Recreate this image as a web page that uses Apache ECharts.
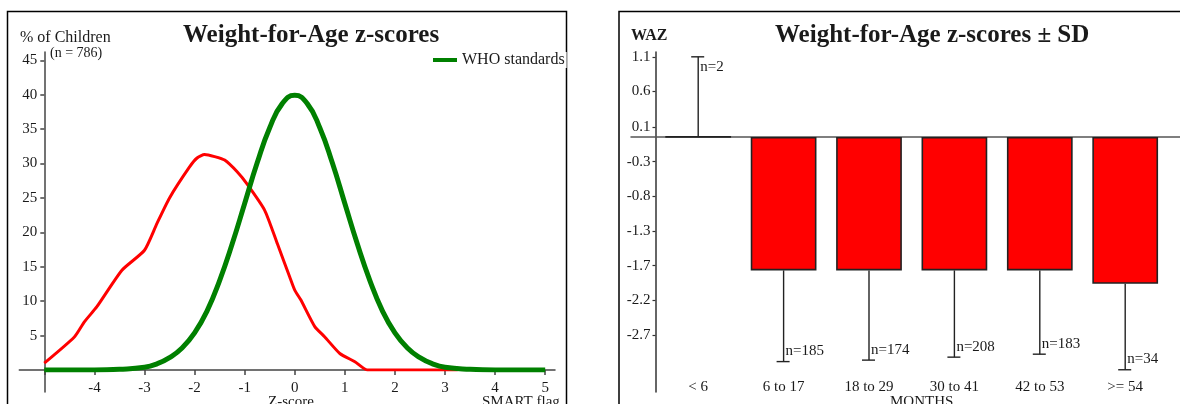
<!DOCTYPE html>
<html><head><meta charset="utf-8">
<script src="https://cdn.jsdelivr.net/npm/echarts@6/dist/echarts.min.js"></script>
<style>html,body{margin:0;padding:0;background:#fff}#c{width:1180px;height:404px}</style>
</head><body><div id="c"></div>
<script>
// ---- Left panel: Weight-for-Age z-score distribution ----
const zObserved   = [-5.0,-4.4,-4.2,-3.95,-3.45,-3.0,-2.75,-2.5,-2.1,-1.95,-1.8,-1.6,-1.4,-1.15,-0.95,-0.6,-0.35,-0.1,0.0,0.12,0.4,0.6,0.9,1.2,1.45,2.0,2.5,3.25];
const pctObserved = [1.0,4.8,7.0,9.2,14.5,17.4,21.3,25.0,29.5,30.8,31.3,31.0,30.5,28.8,27.0,23.2,18.4,13.5,11.6,10.2,6.3,4.8,2.4,1.2,0.0,0.0,0.0,0.0];
const zWho   = [-5,-4.5,-4,-3.5,-3,-2.75,-2.5,-2.25,-2,-1.75,-1.5,-1.25,-1,-0.75,-0.5,-0.25,0,0.25,0.5,0.75,1,1.25,1.5,1.75,2,2.25,2.5,2.75,3,3.5,4,4.5,5];
const pctWho = [0,0,0,0.1,0.4,0.9,1.8,3.2,5.4,8.6,13.0,18.3,24.2,30.1,35.2,38.7,39.9,38.7,35.2,30.1,24.2,18.3,13.0,8.6,5.4,3.2,1.8,0.9,0.4,0.1,0,0,0];
const zTicks = [-5,-4,-3,-2,-1,0,1,2,3,4,5];
const zTickLabels = [-4,-3,-2,-1,0,1,2,3,4,5];
const pctTicks = [5,10,15,20,25,30,35,40,45];

// ---- Right panel: mean WAZ +/- SD by age group ----
const ageGroups = ['< 6','6 to 17','18 to 29','30 to 41','42 to 53','>= 54'];
const wazMean = [0.0,-1.80,-1.80,-1.80,-1.80,-1.98];
const wazSD   = [1.08,1.23,1.21,1.17,1.13,1.16];
const wazN    = [2,185,174,208,183,34];
const wazTickValues = [1.08,0.612,0.135,-0.333,-0.800,-1.268,-1.736,-2.203,-2.671];
const wazTickLabels = ['1.1','0.6','0.1','-0.3','-0.8','-1.3','-1.7','-2.2','-2.7'];

const SERIF = '"Liberation Serif","Times New Roman",serif';
const TXT = '#1a1a1a';

const chart = echarts.init(document.getElementById('c'), null, {renderer:'canvas'});
const lbl = (size, weight) => ({fontFamily:SERIF, fontSize:size, fontWeight:weight||'normal', color:TXT});
const noAxisDecor = {axisTick:{show:false}, axisLabel:{show:false}, splitLine:{show:false}};

chart.setOption({
  animation:false,
  backgroundColor:'#fff',
  title:[
    {text:'Weight-for-Age z-scores', left:183, top:23, padding:0, textStyle:lbl(25,'bold')},
    {text:'Weight-for-Age z-scores ± SD', left:775, top:23, padding:0, textStyle:lbl(25,'bold')},
    {text:'% of Children', left:20, top:30, padding:0, textStyle:lbl(16)},
    {text:'(n = 786)', left:50, top:46, padding:0, textStyle:lbl(14)},
    {text:'Z-score', left:268, top:395, padding:0, textStyle:lbl(15)},
    {text:'SMART flag', left:482, top:395, padding:0, textStyle:lbl(15)},
    {text:'WAZ', left:631, top:28, padding:0, textStyle:lbl(16,'bold')},
    {text:'MONTHS', left:890, top:395, padding:0, textStyle:lbl(15)}
  ],
  legend:{
    data:['WHO standards'], left:433, top:52, padding:0,
    icon:'rect', itemWidth:24, itemHeight:4, itemGap:0,
    textStyle:Object.assign(lbl(16), {backgroundColor:'#fff', padding:[0,2,0,0]})
  },
  graphic:[
    {type:'rect', z:-1, shape:{x:7.5,y:11.5,width:559,height:420}, style:{fill:'none', stroke:'#000', lineWidth:1.5}},
    {type:'rect', z:-1, shape:{x:619,y:11.5,width:600,height:420}, style:{fill:'none', stroke:'#000', lineWidth:1.5}}
  ],
  grid:[
    // 0: left panel, outer extent of the axis lines (lines extend past the origin)
    {left:19.3, right:625, top:52, bottom:12, outerBoundsMode:'none', containLabel:false},
    // 1: left panel, plotting area (z -5..5, % 0..46.2)
    {left:44.3, right:634.8, top:52, bottom:34, outerBoundsMode:'none', containLabel:false},
    // 2: right panel, bars
    {left:655.5, width:512.4, top:52, height:340, outerBoundsMode:'none', containLabel:false},
    // 3: right panel, baseline extent
    {left:631, right:0, top:52, height:340, outerBoundsMode:'none', containLabel:false}
  ],
  xAxis:[
    {gridIndex:0, type:'value', min:-5.5, max:5.2, position:'bottom',
     axisLine:{show:true, onZero:true, lineStyle:{color:'#444', width:1.5}}, ...noAxisDecor},
    {gridIndex:0, type:'value', min:-0.5, max:10.2, show:false, position:'top', splitLine:{show:false}},
    {gridIndex:1, type:'value', min:-5, max:5, position:'bottom',
     axisLine:{show:false, onZero:false},
     axisTick:{show:true, customValues:zTicks, length:5, lineStyle:{color:'#444', width:1.5}},
     axisLabel:{customValues:zTickLabels, margin:11, fontFamily:SERIF, fontSize:15, color:TXT},
     splitLine:{show:false}},
    {gridIndex:2, type:'category', data:ageGroups, position:'bottom', boundaryGap:true,
     axisLine:{show:false, onZero:true}, ...noAxisDecor},
    {gridIndex:2, type:'category', data:ageGroups, position:'bottom', offset:-12, boundaryGap:true,
     axisLine:{show:false, onZero:false}, axisTick:{show:false},
     axisLabel:{margin:0, fontFamily:SERIF, fontSize:15, color:TXT}, splitLine:{show:false}},
    {gridIndex:3, type:'value', min:0, max:1, position:'bottom',
     axisLine:{show:true, onZero:true, lineStyle:{color:'#555', width:1.5}}, ...noAxisDecor}
  ],
  yAxis:[
    {gridIndex:0, type:'value', min:-3.2, max:46.2,
     axisLine:{show:true, onZero:true, onZeroAxisIndex:1, lineStyle:{color:'#444', width:1.5}}, ...noAxisDecor},
    {gridIndex:1, type:'value', min:0, max:46.2,
     axisLine:{show:false, onZero:false},
     axisTick:{show:true, customValues:pctTicks, length:4, lineStyle:{color:'#444', width:1.5}},
     axisLabel:{customValues:pctTicks, margin:7, fontFamily:SERIF, fontSize:15, color:TXT},
     splitLine:{show:false}},
    {gridIndex:2, type:'value', min:-3.44, max:1.145,
     axisLine:{show:true, onZero:false, lineStyle:{color:'#333', width:1.5}},
     axisTick:{show:true, customValues:wazTickValues, length:3, lineStyle:{color:'#333', width:1.2}},
     axisLabel:{customValues:wazTickValues, margin:5, fontFamily:SERIF, fontSize:15, color:TXT,
       formatter:(v)=>{ const i = wazTickValues.findIndex(t=>Math.abs(t-v)<1e-6); return i>=0 ? wazTickLabels[i] : ''; }},
     splitLine:{show:false}},
    {gridIndex:3, type:'value', min:-3.44, max:1.145, show:false, splitLine:{show:false}}
  ],
  series:[
    {type:'line', name:'Observed', xAxisIndex:2, yAxisIndex:1, z:2,
     data:zObserved.map((z,i)=>[z,pctObserved[i]]), showSymbol:false, smooth:0.2,
     lineStyle:{color:'#ff0000', width:3}, itemStyle:{color:'#ff0000'}},
    {type:'line', name:'WHO standards', xAxisIndex:2, yAxisIndex:1, z:3,
     data:zWho.map((z,i)=>[z,pctWho[i]]), showSymbol:false, smooth:true,
     lineStyle:{color:'#008000', width:5}, itemStyle:{color:'#008000'}},
    {type:'bar', name:'WAZ', xAxisIndex:3, yAxisIndex:2, z:3,
     data:wazMean, barCategoryGap:'23%',
     itemStyle:{color:'#ff0000', borderColor:'#222', borderWidth:1.6}},
    {type:'custom', name:'SD', xAxisIndex:3, yAxisIndex:2, z:4, clip:false,
     data:ageGroups.map((c,i)=>[i, wazMean[i], wazSD[i], wazN[i]]),
     encode:{x:0, y:1},
     renderItem:(params, api)=>{
       const i = api.value(0), m = api.value(1), sd = api.value(2), n = api.value(3);
       const down = m < 0;
       const end = down ? m - sd : m + sd;
       const p0 = api.coord([i, m]);
       const p1 = api.coord([i, end]);
       return {type:'group', children:[
         {type:'line', shape:{x1:p0[0], y1:p0[1], x2:p1[0], y2:p1[1]}, style:{stroke:'#222', lineWidth:1.4}},
         {type:'line', shape:{x1:p1[0]-7, y1:p1[1], x2:p1[0]+6, y2:p1[1]}, style:{stroke:'#222', lineWidth:1.4}},
         {type:'text', x:p1[0]+2, y: down ? p1[1]-3 : p1[1]+3,
          style:{text:'n='+n, fill:TXT, fontFamily:SERIF, fontSize:15, align:'left', verticalAlign: down ? 'bottom' : 'top'}}
       ]};
     }}
  ]
});
</script>
</body></html>
